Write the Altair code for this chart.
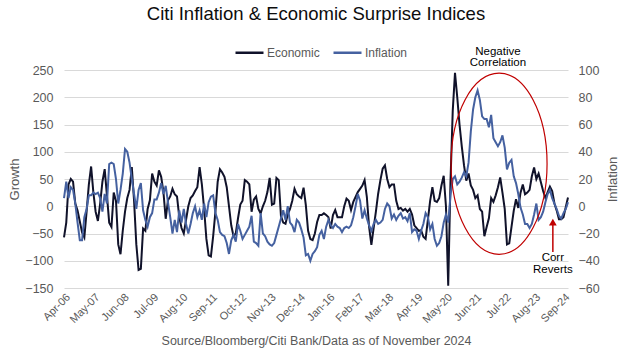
import json
import altair as alt
import pandas as pd

# ---------------- data ----------------
economic = [
    -57, -30, 40, 50, 45, 5, -8, -28, -48, -57, -10, 40, 73, 25, -10, -27, 5, 45, 68, 20, -30, -38, 25, 10,
    -70, -88, -45, -10, 15, 30, 72, 10, -70, -117, -115, -41, -45, -5, 11, 60, 45, 38, 66, 54, 26, -23, 11,
    18, 32, 22, 18, -20, -40, -50, -25, 0, 15, 20, 28, 35, 72, 40, -5, -60, -90, -92, -55, -10, 45,
    68, 62, 54, 35, 0, -35, -55, -50, -22, 3, 10, 48, 45, 40, -10, 12, 18, -5, -13, 0, 10, 26, 52, 3, 5,
    52, 48, -18, -30, -32, -15, -5, 10, 32, 22, 18, 15, 34, 2, -45, -60, -62, -50, -29, -16,
    -16, -13, -16, -20, -41, -16, -7, -20, -20, -20, 0, 14, 10, -7, 8, 17, 26, 32, 38, 48, 17, -38, -71,
    -40, -10, 23, 48, 69, 75, 50, 35, 40, 40, 10, -5, -3, -8, -5, -10, -5,
    -15, -35, -40, -45, -44, -56, -60, -25, 10, 35, 10, 8, 15, 38, 56, 0, -146, 45, 175, 245, 200, 150,
    110, 75, 47, 60, 38, 30, 15, 20, -5, -10, -55, -38, -22, 15, 8, 20, 35, 53, 25, -5, -70, -68, -38, -8, 13,
    -3, 25, 40, 22, 25, 30, 55, 71, 50, 60, 44, 28, 15, 26, 36, 28, 5, -8, -24, -24, -20, -2, 16,
]

inflation = [
    6, 18, 6, 14, 12, 2, -12, -25, -25, -8, -2, 8, 8, 10, 9, 10, 6, -4, 9, 2, 31, 32, 31, 20,
    2, 12, 24, 42, 40, 32, 20, 9, -2, 12, 17, -3, -10, -15, -8, -5, 5, 5, 10, 17,
    9, 15, 3, -8, -20, -10, -19, -3, -12, -2, -13, -20, -13, -5, 0, -8, -3, -10, 2, -8, 3, 7, 8, -5, -10,
    -19, -21, -22, -27, -35, -25, -21, -26, -13, -18, -24, -21, -18, -15, -7, -26, -27, -29, -5, -20,
    -22, -26, -28, -29, -27, -21, -15, -9, -3, -10, 0, -12, -14, -19, -10, -12, -17, -23, -36, -35,
    -40, -35, -33, -30, -21,
    -18, -24, -15, -10, -14, -16, -13, -15, -16, -19, -16, -15, -16, -14, -8, 0, 9, 4, -9, -3,
    -9, -14, -18, -13, -10, -13, -12, -10, -2, 2, 0, -9, -6, -10, -7, -5, -9, -8, -11, -5,
    -19, -17, -18, -24, -18, -13, -5, -8, -17, -13, -24, -29, -27, -22, -12, -6, -12, 8, 20, 22,
    16, 18, 21, 25, 22, 32, 55, 71, 80, 85, 78, 66, 64, 64, 58, 67, 50, 47, 44, 47, 52, 43, 27, 32, 34, 22, 17,
    9, -1, -6, -13, -13, -16, -13, -6, 2, -10, -8, -4, 3, 9, 12, 6, 2, -2, -7, -9, -5, -2, 3,
]

tick_labels = ["Apr-06", "May-07", "Jun-08", "Jul-09", "Aug-10", "Sep-11", "Oct-12", "Nov-13",
               "Dec-14", "Jan-16", "Feb-17", "Mar-18", "Apr-19", "May-20", "Jun-21", "Jul-22",
               "Aug-23", "Sep-24"]
tick_step = 13  # months between labels

series_names = ["Economic", "Inflation"]

n = len(economic)
df = pd.DataFrame({"idx": list(range(n)), "Economic": economic, "Inflation": inflation})

# annotation texts (placed in data coordinates)
ann_text = pd.DataFrame({
    "idx": [192, 192, 216.3, 216.3],
    "y": [283, 262, -95, -117],
    "label": ["Negative", "Correlation", "Corr", "Reverts"],
})
ellipse_df = pd.DataFrame({"idx": [192.5], "y": [78]})
arrow_df = pd.DataFrame({"idx": [216.3], "y": [-84], "y2": [-33]})
head_df = pd.DataFrame({"idx": [216.3], "y": [-29]})

# ---------------- styling ----------------
FONT = "Liberation Sans Narrow, Arial Narrow, Liberation Sans, Arial, sans-serif"
GREY = "#595959"
BLACK_LINE = "#10122a"
BLUE_LINE = "#4561a0"
RED = "#c00000"

Y_LEFT = [-150, 250]
Y_RIGHT = [-60, 100]

x_enc = alt.X(
    "idx:Q",
    scale=alt.Scale(domain=[0, n - 1], nice=False, zero=False),
    axis=alt.Axis(
        values=list(range(0, n, tick_step))[: len(tick_labels)],
        labelExpr=json.dumps(tick_labels) + "[round(datum.value / %d)]" % tick_step,
        labelAngle=-45, labelOverlap=False,
        labelFont=FONT, labelFontSize=11, labelColor=GREY, labelPadding=3,
        ticks=False, domain=False, grid=False,
        title="Source/Bloomberg/Citi Bank/Data as of November 2024",
        titleFont=FONT, titleFontSize=12.5, titleColor=GREY, titleFontWeight="normal",
        titlePadding=10,
    ),
)

color_enc = alt.Color(
    "series:N",
    scale=alt.Scale(domain=series_names, range=[BLACK_LINE, BLUE_LINE]),
    legend=alt.Legend(
        orient="none", legendX=170, legendY=-33, direction="horizontal", title=None,
        symbolType="stroke", symbolSize=784, symbolStrokeWidth=2.5,
        labelFont=FONT, labelFontSize=12, labelColor=GREY, labelOffset=2,
        columnPadding=8,
    ),
)


def left_scale():
    return alt.Scale(domain=Y_LEFT, nice=False, zero=False)


def ann_y(field):
    return alt.Y(field, scale=left_scale(), axis=None)


econ_line = alt.Chart(df).transform_calculate(series="'Economic'").mark_line(strokeWidth=2).encode(
    x=x_enc,
    y=alt.Y(
        "Economic:Q",
        scale=left_scale(),
        axis=alt.Axis(
            values=list(range(-150, 251, 50)), title="Growth", grid=True, gridColor="#d9d9d9",
            gridWidth=1, labelOverlap=False,
            domain=False, ticks=False, labelFont=FONT, labelFontSize=12.5, labelColor=GREY,
            labelPadding=11, titleFont=FONT, titleFontSize=13, titleColor=GREY,
            titleFontWeight="normal", titlePadding=3,
        ),
    ),
    color=color_enc,
)

infl_line = alt.Chart(df).transform_calculate(series="'Inflation'").mark_line(strokeWidth=2).encode(
    x=x_enc,
    y=alt.Y(
        "Inflation:Q",
        scale=alt.Scale(domain=Y_RIGHT, nice=False, zero=False),
        axis=alt.Axis(
            orient="right", values=list(range(-60, 101, 20)), title="Inflation", grid=False,
            labelOverlap=False,
            domain=False, ticks=False, labelFont=FONT, labelFontSize=12.5, labelColor=GREY,
            labelPadding=10, titleFont=FONT, titleFontSize=13, titleColor=GREY,
            titleFontWeight="normal", titlePadding=7, titleAngle=270, titleBaseline="top",
        ),
    ),
    color=color_enc,
)

texts = alt.Chart(ann_text).mark_text(font=FONT, fontSize=11.5, color="#000000", align="center",
                                       baseline="middle").encode(
    x=x_enc, y=ann_y("y:Q"), text="label:N")

ellipse = alt.Chart(ellipse_df).mark_point(
    shape="M -0.53 0 A 0.53 1 0 1 1 0.53 0 A 0.53 1 0 1 1 -0.53 0 Z",
    size=32800, filled=False, stroke=RED, strokeWidth=1.2, opacity=1,
).encode(x=x_enc, y=ann_y("y:Q"))

arrow = alt.Chart(arrow_df).mark_rule(color=RED, strokeWidth=1.5).encode(
    x=x_enc, y=ann_y("y:Q"), y2="y2:Q")

head = alt.Chart(head_df).mark_point(shape="triangle-up", size=60, filled=True, color=RED,
                                      opacity=1).encode(x=x_enc, y=ann_y("y:Q"))

chart = (
    alt.layer(econ_line, infl_line, ellipse, arrow, head, texts)
    .resolve_scale(y="independent")
    .properties(
        width=504, height=218,
        autosize=alt.AutoSizeParams(type="none"),
        padding={"left": 64, "top": 70, "right": 55, "bottom": 64},
        background="white",
        title=alt.TitleParams(
            "Citi Inflation & Economic Surprise Indices", font=FONT, fontSize=18.5,
            fontWeight="normal", color="#0d0d0d", anchor="middle", offset=14,
        ),
    )
    .configure_view(stroke=None)
)

chart.save("out.html", embed_options={"renderer": "svg", "actions": False})
